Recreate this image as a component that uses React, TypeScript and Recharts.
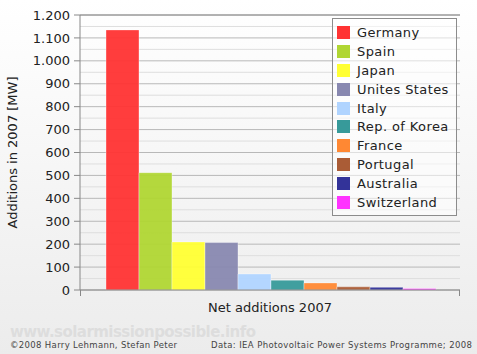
import { BarChart, Bar, XAxis, YAxis, CartesianGrid, ReferenceLine, Legend } from "recharts";

const countries = [
  "Germany",
  "Spain",
  "Japan",
  "Unites States",
  "Italy",
  "Rep. of Korea",
  "France",
  "Portugal",
  "Australia",
  "Switzerland",
];
const additions = [1135, 512, 210, 207, 70, 43, 31, 14, 12, 6.5];
const colors = [
  "#ff3333",
  "#b0d633",
  "#ffff33",
  "#8888b0",
  "#b0d4ff",
  "#379a9a",
  "#ff8833",
  "#aa5c36",
  "#333399",
  "#ff33ff",
];
const category = "Net additions 2007";
const majorTicks = [0, 100, 200, 300, 400, 500, 600, 700, 800, 900, 1000, 1100, 1200];
const minorTicks = [50, 150, 250, 350, 450, 550, 650, 750, 850, 950, 1050, 1150];

const row: Record<string, string | number> = { name: category };
countries.forEach((c, i) => {
  row[c] = additions[i];
});
const data = [row];

const font = "'DejaVu Sans', Verdana, sans-serif";

function fmt(v: number) {
  const s = String(v);
  return v >= 1000 ? s.slice(0, s.length - 3) + "." + s.slice(-3) : s;
}

// legend keeps the series order (recharts sorts its payload by name)
function LegendBox() {
  return (
    <div
      style={{
        boxSizing: "border-box",
        width: 125,
        height: 198,
        border: "1px solid #8c8c8c",
        background: "rgba(255,255,255,0.55)",
        paddingTop: 4.6,
        paddingLeft: 4,
        fontFamily: font,
        fontSize: 13,
        color: "#222",
        letterSpacing: 0.4,
      }}
    >
      {countries.map((c, i) => (
        <div key={c} style={{ height: 18.8, display: "flex", alignItems: "center" }}>
          <span style={{ width: 13, height: 13, background: colors[i], marginRight: 7, flex: "none" }} />
          <span style={{ whiteSpace: "nowrap" }}>{c}</span>
        </div>
      ))}
    </div>
  );
}

export default function App() {
  return (
    <div
      style={{
        position: "absolute",
        left: 0,
        top: 0,
        width: 477,
        height: 354,
        background: "linear-gradient(#ffffff, #ececec)",
        fontFamily: font,
      }}
    >
      <BarChart
        width={477}
        height={354}
        data={data}
        margin={{ top: 15, right: 17, left: 0, bottom: 32 }}
        barGap={0}
        barCategoryGap={26}
      >
        <CartesianGrid horizontalValues={minorTicks} vertical={false} stroke="#dedede" strokeWidth={1} />
        <CartesianGrid horizontalValues={majorTicks} vertical={false} stroke="#b8b8b8" strokeWidth={1} />
        <XAxis
          dataKey="name"
          tick={false}
          axisLine={false}
          tickLine={false}
          height={32}
          label={{ value: category, position: "insideBottom", offset: 10, fill: "#222", fontSize: 13, fontFamily: font }}
        />
        <YAxis
          domain={[0, 1200]}
          ticks={majorTicks}
          interval={0}
          width={80}
          tickSize={6}
          tickMargin={4}
          tickFormatter={fmt}
          axisLine={{ stroke: "#888" }}
          tickLine={{ stroke: "#888" }}
          tick={{ fill: "#222", fontSize: 13, fontFamily: font }}
          label={{
            value: "Additions in 2007 [MW]",
            angle: -90,
            position: "insideLeft",
            offset: 12,
            style: { textAnchor: "middle" },
            fill: "#222",
            fontSize: 13,
            fontFamily: font,
          }}
        />
        <YAxis yAxisId="right" orientation="right" width={0} tick={false} tickLine={false} axisLine={{ stroke: "#888" }} />
        <ReferenceLine y={0} stroke="#888" />
        <ReferenceLine y={1200} stroke="#888" />
        {countries.map((c, i) => (
          <Bar
            key={c}
            dataKey={c}
            name={c}
            fill={colors[i]}
            fillOpacity={0.95}
            stroke="#ffffff"
            strokeOpacity={0.35}
            strokeWidth={1}
            isAnimationActive={false}
          />
        ))}
        <Legend
          layout="vertical"
          align="center"
          verticalAlign="middle"
          wrapperStyle={{ left: 332, top: 18, width: 125, height: 198 }}
          content={LegendBox}
        />
      </BarChart>
      <svg
        width={477}
        height={354}
        style={{ position: "absolute", left: 0, top: 0, pointerEvents: "none" }}
      >
        {/* frame lines run a few px past the zero line */}
        <line x1={80.5} y1={290} x2={80.5} y2={296} stroke="#888" />
        <line x1={459.5} y1={290} x2={459.5} y2={296} stroke="#888" />
        <text x={10} y={337} fontSize={15} fontWeight="bold" fill="#dddddd" fontFamily={font} textLength={246}>
          www.solarmissionpossible.info
        </text>
        <text x={10} y={348} fontSize={8.5} fill="#444" fontFamily={font} textLength={167}>
          ©2008 Harry Lehmann, Stefan Peter
        </text>
        <text x={472} y={348} fontSize={8.5} fill="#444" fontFamily={font} textAnchor="end" textLength={261}>
          Data: IEA Photovoltaic Power Systems Programme; 2008
        </text>
      </svg>
    </div>
  );
}
